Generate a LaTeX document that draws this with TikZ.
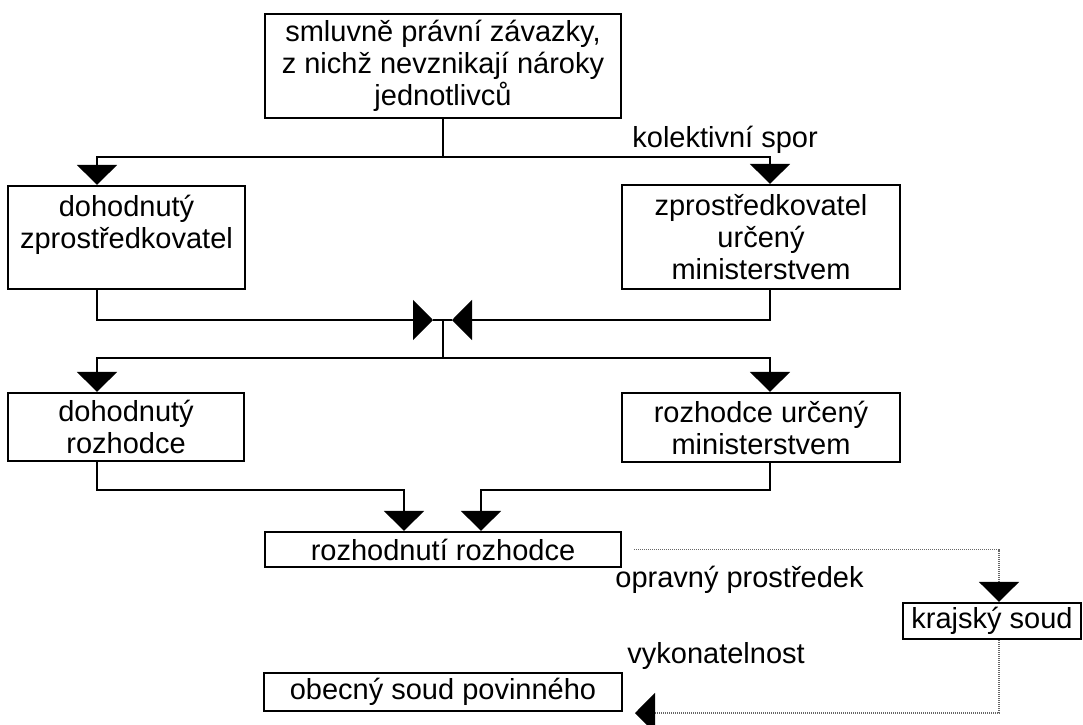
\documentclass[tikz,border=0pt]{standalone}
\usepackage{fontspec}
\setmainfont{Liberation Sans}
\usetikzlibrary{arrows.meta}
\tikzset{
    box/.style={draw, line width=1.1pt, inner sep=0pt, align=center},
    link/.style={line width=0.8pt},
    tri/.style={-{Triangle[width=20pt,length=10pt,color=black]}},
    dotlink/.style={line width=0.6pt, black!60, dash pattern=on 0.5pt off 0.5pt},
    lbl/.style={inner sep=0pt, anchor=base west},
}

\begin{document}
\begin{tikzpicture}[x=0.5pt,y=-0.5pt,font=\fontsize{14.5}{16}\selectfont]

            \clip (0,0) rectangle (1083,724);

            % columns and junctions
            \coordinate (colL) at (97,0);
            \coordinate (colR) at (770,0);
            \coordinate (colK) at (999,0);
            \coordinate (J1) at (443,157);
            \coordinate (M1) at (433,320);
            \coordinate (M2) at (452,320);
            \coordinate (M3) at (443,320);
            \coordinate (J2) at (443,358);
            \coordinate (A1) at (404,490);
            \coordinate (A2) at (481,490);
            \coordinate (D2) at (635,713);

            \node[box, minimum width=178pt, minimum height=52pt] (smluv) at (443,66)
                {smluvně právní závazky,\\z nichž nevznikají nároky\\jednotlivců};
            \node[box, minimum width=118.5pt, minimum height=51.5pt] (zprL) at (126.5,237.5)
                {dohodnutý\\zprostředkovatel\\\mbox{}};
            \node[box, minimum width=139pt, minimum height=52pt] (zprR) at (761,237)
                {zprostředkovatel\\určený\\ministerstvem};
            \node[box, minimum width=118pt, minimum height=34pt] (rozL) at (126,427)
                {dohodnutý\\rozhodce};
            \node[box, minimum width=139pt, minimum height=34.5pt] (rozR) at (761,427.5)
                {rozhodce určený\\ministerstvem};
            \node[box, minimum width=178pt, minimum height=17.5pt] (rozhod) at (443,549.5)
                {rozhodnutí rozhodce};
            \node[box, minimum width=89pt, minimum height=18pt] (kraj) at (992,621)
                {krajský soud};
            \node[box, minimum width=179pt, minimum height=19pt] (obec) at (443,692)
                {obecný soud povinného};

            \node[lbl] (kolekt) at (632,147) {kolektivní spor};
            \node[lbl] (oprav) at (615,587) {opravný prostředek};
            \node[lbl] (vykon) at (627,663) {vykonatelnost};

            \draw[link] (smluv.south) -- (J1);
            \draw[link,tri] (J1) -| (colL |- zprL.north);
            \draw[link,tri] (J1) -| (colR |- zprR.north);

            \draw[link,tri] (colL |- zprL.south) |- (M1);
            \draw[link,tri] (colR |- zprR.south) |- (M2);
            \draw[link] (M1) -- (M2);
            \draw[link] (M3) -- (J2);
            \draw[link,tri] (J2) -| (colL |- rozL.north);
            \draw[link,tri] (J2) -| (colR |- rozR.north);

            \draw[link,tri] (colL |- rozL.south) |- (A1) -- (A1 |- rozhod.north);
            \draw[link,tri] (colR |- rozR.south) |- (A2) -- (A2 |- rozhod.north);

            \begin{scope}[dotlink]
                \draw[tri] ([xshift=6pt]rozhod.east) -| (colK |- kraj.north);
                \draw[tri] (colK |- kraj.south) |- (D2);
            \end{scope}
        \end{tikzpicture}
\end{document}
